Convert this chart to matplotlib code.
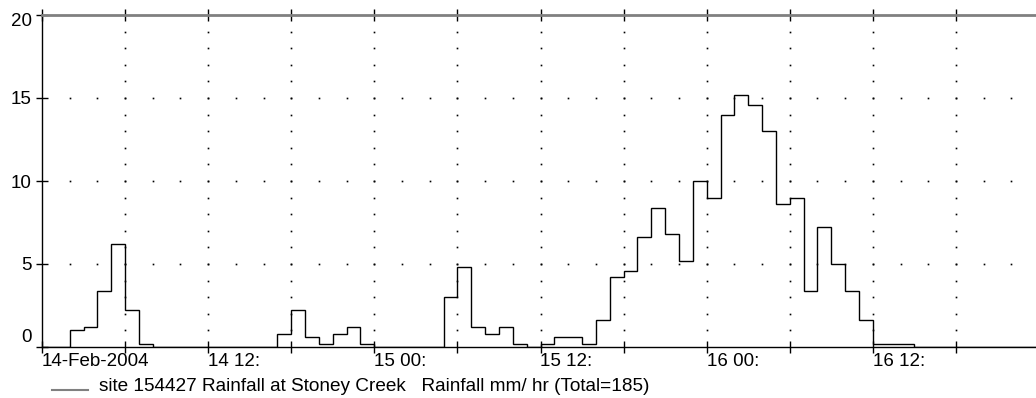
import numpy as np
import matplotlib
matplotlib.use('Agg')
import matplotlib.pyplot as plt
import matplotlib.transforms as mtransforms
from matplotlib.lines import Line2D

# hourly rainfall (mm/hr) from 14-Feb-2004 00:00, 72 hours
rain = [0, 0, 1.0, 1.2, 3.4, 6.2, 2.2, 0.2,
        0, 0, 0, 0, 0, 0, 0, 0, 0,
        0.8, 2.2, 0.6, 0.2, 0.8, 1.2, 0.2,
        0, 0, 0, 0, 0,
        3.0, 4.8, 1.2, 0.8, 1.2, 0.2, 0, 0.2, 0.6, 0.6, 0.2,
        1.6, 4.2, 4.6, 6.6, 8.4, 6.8, 5.2, 10.0, 9.0, 14.0, 15.2, 14.6, 13.0,
        8.6, 9.0, 3.4, 7.2, 5.0, 3.4, 1.6, 0.2, 0.2, 0.2,
        0, 0, 0, 0, 0, 0, 0, 0, 0]
hours = np.arange(len(rain) + 1)

xtick_hours = [0, 12, 24, 36, 48, 60]
xtick_labels = ['14-Feb-2004', '14 12:', '15 00:', '15 12:', '16 00:', '16 12:']
yticks = [0, 5, 10, 15, 20]
legend_label = 'site 154427 Rainfall at Stoney Creek   Rainfall mm/ hr (Total=185)'

plt.rcParams['font.family'] = ['Liberation Sans', 'DejaVu Sans']
FS = 13.5

fig = plt.figure(figsize=(10.36, 3.98), dpi=100)
ax = fig.add_axes([42 / 1036, 51 / 398, 997 / 1036, 332 / 398])

# dotted grid made of single dots
gx = np.arange(6, 72, 6)
gy = np.arange(1, 20)
vx, vy = np.meshgrid(gx, gy)
ax.plot(vx.ravel(), vy.ravel(), ls='none', marker='s', ms=1.2, mew=0,
        color='black', zorder=1)
hx, hy = np.meshgrid(np.arange(2, 72, 2), [5, 10, 15])
ax.plot(hx.ravel(), hy.ravel(), ls='none', marker='s', ms=1.2, mew=0,
        color='black', zorder=1)

ax.stairs(rain, hours, color='black', lw=1.0, zorder=3)

ax.set_xlim(0, 72)
ax.set_ylim(0, 20)

ax.set_xticks(np.arange(0, 73, 6))
lab = {h: t for h, t in zip(xtick_hours, xtick_labels)}
ax.set_xticklabels([lab.get(h, '') for h in range(0, 73, 6)],
                   ha='left', fontsize=FS)
ax.set_yticks(yticks)
ax.set_yticklabels([str(v) for v in yticks], fontsize=FS)
ax.tick_params(axis='x', direction='inout', length=8, width=1, pad=0,
               top=True, colors='black')
ax.tick_params(axis='y', direction='inout', length=8, width=1, pad=3.5)

for sp in ['left', 'bottom']:
    ax.spines[sp].set_color('black')
    ax.spines[sp].set_linewidth(1)
ax.spines['right'].set_visible(False)
ax.spines['top'].set_color('#808080')
ax.spines['top'].set_linewidth(2.0)

# nudge the end labels of the y axis like the original
yt = ax.yaxis.get_major_ticks()
yt[0].label1.set_transform(yt[0].label1.get_transform() +
                           mtransforms.ScaledTranslation(0, 12 / 100, fig.dpi_scale_trans))
yt[-1].label1.set_transform(yt[-1].label1.get_transform() +
                            mtransforms.ScaledTranslation(0, -4 / 100, fig.dpi_scale_trans))

# legend line + text under the axis
fig.add_artist(Line2D([52 / 1036, 88 / 1036], [1 - 390 / 398] * 2,
                      color='#808080', lw=1.5))
fig.text(99 / 1036, 1 - 391 / 398, legend_label, fontsize=13.65, va='baseline')

fig.savefig('out.png', dpi=100)
